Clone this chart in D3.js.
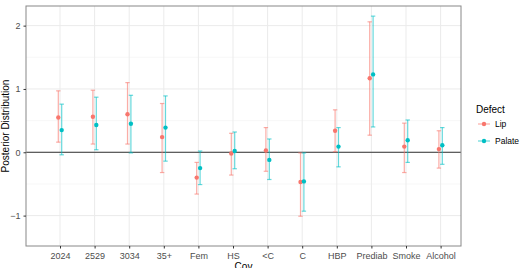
<!DOCTYPE html>
<html>
<head>
<meta charset="utf-8">
<script src="https://cdn.jsdelivr.net/npm/d3@7"></script>
<style>
  body { margin: 0; background: #fff; }
  svg { display: block; font-family: 'Liberation Sans', Arial, sans-serif; }
</style>
</head>
<body>
<div id="chart"></div>
<script>
// --- data ---
const covs = ['2024', '2529', '3034', '35+', 'Fem', 'HS', '<C', 'C', 'HBP', 'Prediab', 'Smoke', 'Alcohol'];
const defects = ['Lip', 'Palate'];
const lipMean  = [0.55, 0.56, 0.60, 0.24, -0.40, -0.02, 0.03, -0.47, 0.34, 1.17, 0.09, 0.05];
const lipLow   = [0.16, 0.13, 0.13, -0.32, -0.66, -0.36, -0.30, -1.01, 0.01, 0.27, -0.32, -0.25];
const lipHigh  = [0.97, 0.98, 1.10, 0.77, -0.16, 0.30, 0.39, -0.01, 0.67, 2.06, 0.46, 0.34];
const palMean  = [0.35, 0.43, 0.45, 0.39, -0.25, 0.02, -0.12, -0.46, 0.09, 1.23, 0.19, 0.11];
const palLow   = [-0.04, 0.04, -0.01, -0.14, -0.51, -0.26, -0.43, -0.93, -0.23, 0.40, -0.16, -0.19];
const palHigh  = [0.76, 0.87, 0.90, 0.89, 0.02, 0.32, 0.21, -0.01, 0.39, 2.15, 0.51, 0.39];
const yTicks = [-1, 0, 1, 2];
const yMinor = [-0.5, 0.5, 1.5];
const colors = { Lip: '#F8766D', Palate: '#00BFC4' };

const rows = [];
covs.forEach((c, i) => {
  rows.push({ cov: c, defect: 'Lip', mean: lipMean[i], lo: lipLow[i], hi: lipHigh[i] });
  rows.push({ cov: c, defect: 'Palate', mean: palMean[i], lo: palLow[i], hi: palHigh[i] });
});

const W = 524, H = 268;
const panel = { left: 26, right: 461, top: 6, bottom: 246 };

const svg = d3.select('#chart').append('svg').attr('width', W).attr('height', H);

// step ~34.6px, first category at 60
const x = d3.scalePoint().domain(covs)
  .range([60, 60 + 11 * 34.6]);
const dodge = d3.scalePoint().domain(defects).range([-1.7, 1.7]);
const y = d3.scaleLinear().domain([-1.48, 2.31]).range([panel.bottom, panel.top]);

const g = svg.append('g');

// grid
g.selectAll('.minor').data(yMinor).enter().append('line')
  .attr('x1', panel.left).attr('x2', panel.right)
  .attr('y1', d => y(d)).attr('y2', d => y(d))
  .attr('stroke', '#f2f2f2').attr('stroke-width', 0.6);
g.selectAll('.major').data(yTicks).enter().append('line')
  .attr('x1', panel.left).attr('x2', panel.right)
  .attr('y1', d => y(d)).attr('y2', d => y(d))
  .attr('stroke', '#ebebeb').attr('stroke-width', 1);
g.selectAll('.vgrid').data(covs).enter().append('line')
  .attr('x1', d => x(d)).attr('x2', d => x(d))
  .attr('y1', panel.top).attr('y2', panel.bottom)
  .attr('stroke', '#ebebeb').attr('stroke-width', 1);

// zero line
g.append('line').attr('x1', panel.left).attr('x2', panel.right)
  .attr('y1', y(0)).attr('y2', y(0)).attr('stroke', '#333').attr('stroke-width', 1);

// error bars
const eb = g.selectAll('.eb').data(rows).enter().append('g')
  .attr('transform', d => `translate(${x(d.cov) + dodge(d.defect)},0)`);
eb.append('line').attr('x1', 0).attr('x2', 0)
  .attr('y1', d => y(d.lo)).attr('y2', d => y(d.hi))
  .attr('stroke', d => colors[d.defect]).attr('stroke-opacity', 0.6).attr('stroke-width', 1.2);
eb.append('line').attr('x1', -2.2).attr('x2', 2.2)
  .attr('y1', d => y(d.hi)).attr('y2', d => y(d.hi))
  .attr('stroke', d => colors[d.defect]).attr('stroke-opacity', 0.6).attr('stroke-width', 1.2);
eb.append('line').attr('x1', -2.2).attr('x2', 2.2)
  .attr('y1', d => y(d.lo)).attr('y2', d => y(d.lo))
  .attr('stroke', d => colors[d.defect]).attr('stroke-opacity', 0.6).attr('stroke-width', 1.2);
eb.append('circle').attr('cx', 0).attr('cy', d => y(d.mean)).attr('r', 2.2)
  .attr('fill', d => colors[d.defect]);

// panel border
g.append('rect').attr('x', panel.left).attr('y', panel.top)
  .attr('width', panel.right - panel.left).attr('height', panel.bottom - panel.top)
  .attr('fill', 'none').attr('stroke', '#888').attr('stroke-width', 1);

// axes
const yAxis = d3.axisLeft(y).tickValues(yTicks).tickSize(2.5).tickPadding(3).tickFormat(d3.format('d'));
svg.append('g').attr('transform', `translate(${panel.left},0)`).call(yAxis)
  .call(a => a.select('.domain').remove())
  .call(a => a.selectAll('line').attr('stroke', '#333'))
  .selectAll('text').style('font-size', '9px').attr('fill', '#4d4d4d');

const xAxis = d3.axisBottom(x).tickSize(2.5).tickPadding(4);
svg.append('g').attr('transform', `translate(0,${panel.bottom})`).call(xAxis)
  .call(a => a.select('.domain').remove())
  .call(a => a.selectAll('line').attr('stroke', '#333'))
  .selectAll('text').style('font-size', '9px').attr('fill', '#4d4d4d');

// axis titles
svg.append('text').attr('transform', `translate(9,${(panel.top + panel.bottom) / 2}) rotate(-90)`)
  .attr('text-anchor', 'middle').style('font-size', '10px').attr('fill', '#000').text('Posterior Distribution');
svg.append('text').attr('x', (panel.left + panel.right) / 2).attr('y', 270)
  .attr('text-anchor', 'middle').style('font-size', '10px').attr('fill', '#000').text('Cov');

// legend
const lg = svg.append('g').attr('transform', 'translate(476,0)');
lg.append('text').attr('x', 0).attr('y', 113).style('font-size', '10px').attr('fill', '#000').text('Defect');
defects.forEach((d, i) => {
  const yy = 124 + i * 17;
  lg.append('line').attr('x1', 2).attr('x2', 14).attr('y1', yy).attr('y2', yy)
    .attr('stroke', colors[d]).attr('stroke-opacity', 0.6).attr('stroke-width', 1.2);
  lg.append('circle').attr('cx', 8).attr('cy', yy).attr('r', 2.2).attr('fill', colors[d]);
  lg.append('text').attr('x', 19).attr('y', yy + 3).style('font-size', '8.5px').attr('fill', '#000').text(d);
});
</script>
</body>
</html>
